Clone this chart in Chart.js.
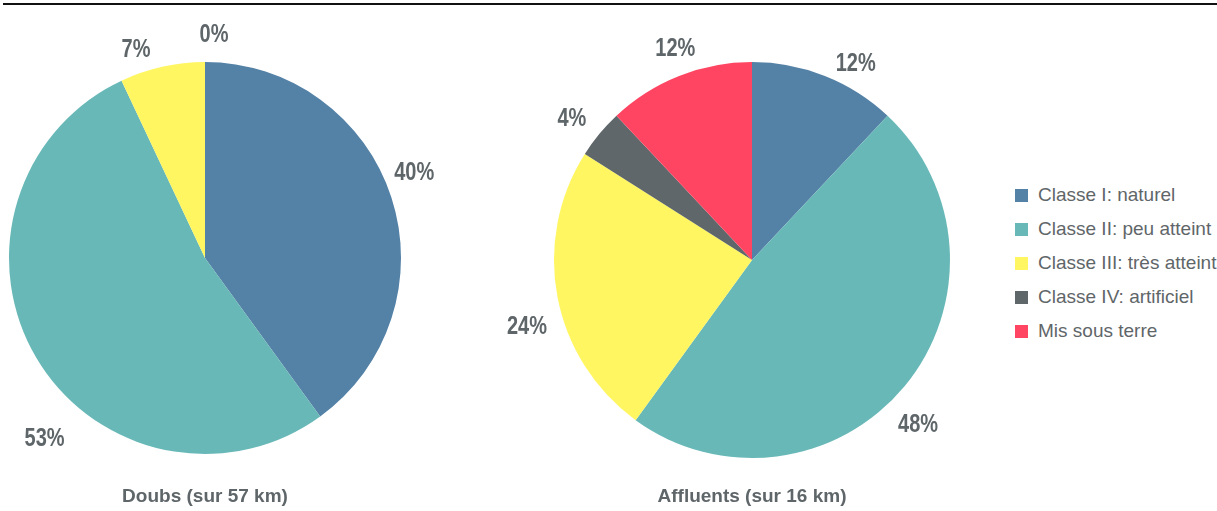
<!DOCTYPE html>
<html>
<head>
<meta charset="utf-8">
<script src="https://cdn.jsdelivr.net/npm/chart.js@4/dist/chart.umd.min.js"></script>
<style>
  html, body { margin: 0; padding: 0; background: #fff; }
  #wrap { position: relative; width: 1217px; height: 511px; overflow: hidden; }
  #topline { position: absolute; left: 3px; right: 0; top: 3px; height: 2px; background: #111; }
  #doubs { position: absolute; left: 0; top: 0; }
  #affluents { position: absolute; left: 480px; top: 0; }
  #legend { position: absolute; left: 1015px; top: 186px; font-family: "Liberation Sans", Arial, sans-serif;
            font-size: 19px; color: #5f6669; }
  #legend .row { height: 34px; display: flex; align-items: center; position: relative; top: -8px; }
  #legend .box { width: 13px; height: 13px; margin-right: 10px; flex: none; }
</style>
</head>
<body>
<div id="wrap">
  <div id="topline"></div>
  <canvas id="doubs" width="480" height="511"></canvas>
  <canvas id="affluents" width="520" height="511"></canvas>
  <div id="legend"></div>
</div>
<script>
// Classes de morphologie des cours d'eau, en % du linéaire
const classes = ["Classe I: naturel", "Classe II: peu atteint", "Classe III: très atteint",
                 "Classe IV: artificiel", "Mis sous terre"];
const classColors = ["#5481a6", "#69b8b8", "#fff661", "#5f676a", "#ff4562"];

const doubsTitle = "Doubs (sur 57 km)";
const doubsShare = [40, 53, 7, 0, null];      // pas de tronçon mis sous terre

const affluentsTitle = "Affluents (sur 16 km)";
const affluentsShare = [12, 48, 24, 4, 12];

const TEXT_GREY = "#5f6669";
// no narrow font installed, so squeeze the bold face horizontally
const NARROW = 0.8;

// Percent labels outside each slice, roughly where Excel puts them.
const pctLabels = {
    id: "pctLabels",
    afterDatasetsDraw(chart, args, opts) {
        const meta = chart.getDatasetMeta(0);
        const data = chart.data.datasets[0].data;
        const total = data.reduce((s, v) => s + (v || 0), 0);
        const ctx = chart.ctx;
        meta.data.forEach((arc, i) => {
            const v = data[i];
            if (v == null) return;
            const p = arc.getProps(["x", "y", "startAngle", "endAngle", "outerRadius"], true);
            const mid = (p.startAngle + p.endAngle) / 2;
            const r = p.outerRadius + opts.gap;
            const n = opts.nudge[i] || [0, 0];
            ctx.save();
            ctx.translate(p.x + Math.cos(mid) * r + n[0], p.y + Math.sin(mid) * r + n[1] + 2);
            ctx.scale(NARROW, 1);
            ctx.font = "bold 25px 'Liberation Sans', Arial, sans-serif";
            ctx.fillStyle = TEXT_GREY;
            ctx.textAlign = "center";
            ctx.textBaseline = "middle";
            ctx.fillText(Math.round(v / total * 100) + "%", 0, 0);
            ctx.restore();
        });
    },
};

function makePie(id, title, values, padding, titleTop, nudge) {
    return new Chart(document.getElementById(id), {
        type: "pie",
        data: {
            labels: classes,
            datasets: [{
                data: values,
                backgroundColor: classColors,
                borderWidth: 0,
                hoverOffset: 0,
                offset: 0,
            }],
        },
        options: {
            responsive: false,
            animation: false,
            layout: { padding: padding },
            plugins: {
                legend: { display: false },
                tooltip: { enabled: false },
                title: {
                    display: true,
                    position: "bottom",
                    text: title,
                    color: TEXT_GREY,
                    font: { family: "'Liberation Sans', Arial, sans-serif", size: 19, weight: "bold", lineHeight: 1.2 },
                    padding: { top: titleTop, bottom: 3 },
                },
                pctLabels: { gap: 24, nudge: nudge },
            },
        },
        plugins: [pctLabels],
    });
}

makePie("doubs", doubsTitle, doubsShare,
    { top: 62, bottom: 0, left: 9, right: 79 }, 31.2,
    [[0, -19], [29, 67], [-21, 5], [9, -5], [0, 0]]);

makePie("affluents", affluentsTitle, affluentsShare,
    { top: 62, bottom: 0, left: 74, right: 50 }, 27.2,
    [[22, 9], [-5, 22], [-7, 24], [-9, -1], [5, -6]]);

// legend shared by both pies
const legend = document.getElementById("legend");
classes.forEach((name, i) => {
    const row = document.createElement("div");
    row.className = "row";
    const box = document.createElement("span");
    box.className = "box";
    box.style.background = classColors[i];
    const txt = document.createElement("span");
    txt.textContent = name;
    row.appendChild(box);
    row.appendChild(txt);
    legend.appendChild(row);
});
</script>
</body>
</html>
